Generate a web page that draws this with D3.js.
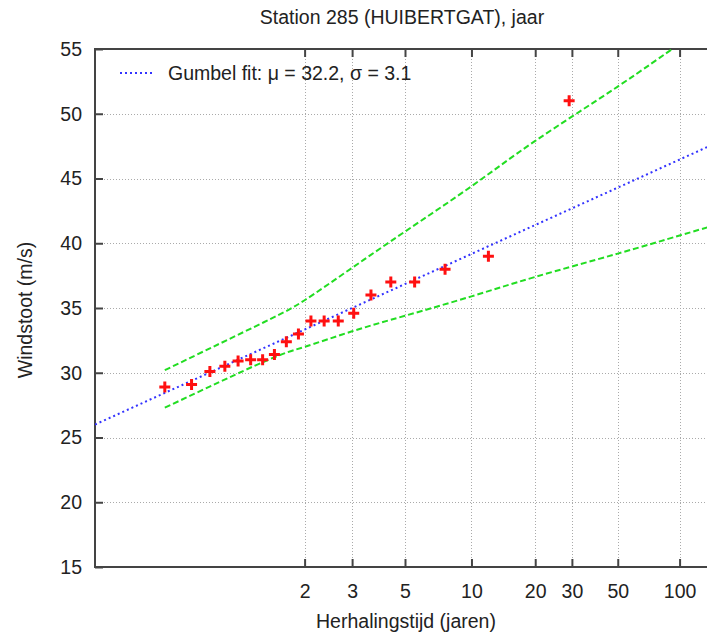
<!DOCTYPE html>
<html lang="nl">
  <head>
    <meta charset="UTF-8">
    <title>Station 285 (HUIBERTGAT), jaar</title>
    <style>
      body { margin: 0; background: #fff; }
      text { font-family: "Liberation Sans", Arial, sans-serif; fill: #222; }
    </style>
  </head>
  <body>
    <div id="chart"></div>
    <script src="https://d3js.org/d3.v7.min.js"></script>
    <script>
    // jaarmaxima (windstoot, m/s) met hun herhalingstijd (jaren)
    var returnPeriod = [1.036, 1.091, 1.153, 1.222, 1.299, 1.388, 1.489, 1.606, 1.744, 1.907,
                        2.103, 2.345, 2.649, 3.045, 3.579, 4.340, 5.514, 7.556, 12.0, 29.1];
    var windGust = [28.9, 29.1, 30.1, 30.5, 30.9, 31.0, 31.0, 31.4, 32.4, 33.0,
                    34.0, 34.0, 34.0, 34.6, 36.0, 37.0, 37.0, 38.0, 39.0, 51.0];

    // betrouwbaarheidsband (groen)
    var bandPeriod = [1.036, 1.5, 2, 3, 5, 10, 20, 50, 100, 150];
    var bandUpper = [30.2, 33.9, 35.6, 38.1, 40.9, 44.4, 47.9, 52.1, 55.4, 57.3];
    var bandLower = [27.3, 30.85, 32.0, 33.2, 34.4, 35.9, 37.4, 39.2, 40.6, 41.4];

    var fitMu = 32.2, fitSigma = 3.1;

    var xTickPeriods = [2, 3, 5, 10, 20, 30, 50, 100];
    var yTicks = [15, 20, 25, 30, 35, 40, 45, 50, 55];

    var W = 707, H = 637;
    var margin = {top: 49, left: 95, bottom: 70, right: 0};
    var plotRight = 715;
    var fontSize = "19.5px";

    // gumbel gereduceerde variabele
    function gumbel(T) { return -Math.log(-Math.log(1 - 1 / T)); }

    var x = d3.scaleLinear().domain([-2, 5]).range([margin.left, plotRight]);
    var y = d3.scaleLinear().domain([15, 55]).range([H - margin.bottom, margin.top]);

    var svg = d3.select("#chart").append("svg")
        .attr("width", W).attr("height", H);

    svg.append("defs").append("clipPath").attr("id", "clip")
      .append("rect")
        .attr("x", x.range()[0]).attr("y", y.range()[1])
        .attr("width", x.range()[1] - x.range()[0])
        .attr("height", y.range()[0] - y.range()[1]);

    // grid
    var grid = svg.append("g").attr("stroke", "#aaa").attr("stroke-width", 1).attr("stroke-dasharray", "1,2");
    grid.selectAll(".gy").data(yTicks.slice(1, -1)).enter().append("line")
        .attr("x1", x.range()[0]).attr("x2", x.range()[1])
        .attr("y1", function(d){ return Math.round(y(d)) + 0.5; })
        .attr("y2", function(d){ return Math.round(y(d)) + 0.5; });
    grid.selectAll(".gx").data(xTickPeriods).enter().append("line")
        .attr("y1", y.range()[0]).attr("y2", y.range()[1])
        .attr("x1", function(d){ return Math.round(x(gumbel(d))) + 0.5; })
        .attr("x2", function(d){ return Math.round(x(gumbel(d))) + 0.5; });

    // axes
    var xAxis = d3.axisBottom(x)
        .tickValues(xTickPeriods.map(gumbel))
        .tickFormat(function(d, i){ return xTickPeriods[i]; })
        .tickSizeInner(-8).tickSizeOuter(0).tickPadding(17);
    var gx = svg.append("g")
        .attr("transform", "translate(0," + y.range()[0] + ")")
        .call(xAxis);

    var gxTop = svg.append("g")
        .attr("transform", "translate(0," + y.range()[1] + ")")
        .call(d3.axisTop(x).tickValues(xTickPeriods.map(gumbel)).tickFormat("").tickSizeInner(-8).tickSizeOuter(0));

    var gy = svg.append("g")
        .attr("transform", "translate(" + x.range()[0] + ",0)")
        .call(d3.axisLeft(y).tickValues(yTicks).tickSizeInner(-8).tickSizeOuter(0).tickPadding(13));

    [gx, gxTop, gy].forEach(function(g){
      g.select(".domain").remove();
      g.selectAll(".tick line").attr("stroke", "#444").attr("stroke-width", 2);
      g.selectAll(".tick text").style("font-size", fontSize).attr("fill", "#222");
    });

    // frame
    svg.append("rect")
        .attr("x", x.range()[0]).attr("y", y.range()[1])
        .attr("width", x.range()[1] - x.range()[0])
        .attr("height", y.range()[0] - y.range()[1])
        .attr("fill", "none").attr("stroke", "#444").attr("stroke-width", 2);

    var plot = svg.append("g").attr("clip-path", "url(#clip)");

    // gumbel fit
    var fitLine = d3.line()
        .x(function(d){ return x(d); })
        .y(function(d){ return y(fitMu + fitSigma * d); });
    plot.append("path")
        .datum(x.domain())
        .attr("d", fitLine)
        .attr("fill", "none").attr("stroke", "#3333ff").attr("stroke-width", 2)
        .attr("stroke-dasharray", "2,3");

    // band
    var bandLine = d3.line().curve(d3.curveNatural)
        .x(function(d){ return x(gumbel(d[0])); })
        .y(function(d){ return y(d[1]); });
    [bandUpper, bandLower].forEach(function(vals){
      plot.append("path")
          .datum(bandPeriod.map(function(t, i){ return [t, vals[i]]; }))
          .attr("d", bandLine)
          .attr("fill", "none").attr("stroke", "#22dd22").attr("stroke-width", 2)
          .attr("stroke-dasharray", "6,3");
    });

    // data
    plot.selectAll(".pt").data(returnPeriod).enter().append("path")
        .attr("transform", function(d, i){ return "translate(" + x(gumbel(d)) + "," + y(windGust[i]) + ")"; })
        .attr("d", "M-5.5,0H5.5M0,-5.5V5.5")
        .attr("stroke", "#ff1010").attr("stroke-width", 3);

    // legend
    svg.append("line")
        .attr("x1", 120).attr("x2", 155).attr("y1", 73).attr("y2", 73)
        .attr("stroke", "#3333ff").attr("stroke-width", 2).attr("stroke-dasharray", "2,3");
    svg.append("text")
        .attr("x", 168).attr("y", 80)
        .style("font-size", fontSize)
        .text("Gumbel fit: \u03bc = " + fitMu.toFixed(1) + ", \u03c3 = " + fitSigma.toFixed(1));

    // titles
    svg.append("text")
        .attr("x", 402).attr("y", 24).attr("text-anchor", "middle")
        .style("font-size", fontSize)
        .text("Station 285 (HUIBERTGAT), jaar");
    svg.append("text")
        .attr("x", 406).attr("y", 628).attr("text-anchor", "middle")
        .style("font-size", fontSize)
        .text("Herhalingstijd (jaren)");
    svg.append("text")
        .attr("transform", "translate(32,310) rotate(-90)")
        .attr("text-anchor", "middle")
        .style("font-size", fontSize)
        .text("Windstoot (m/s)");
    </script>
  </body>
</html>
